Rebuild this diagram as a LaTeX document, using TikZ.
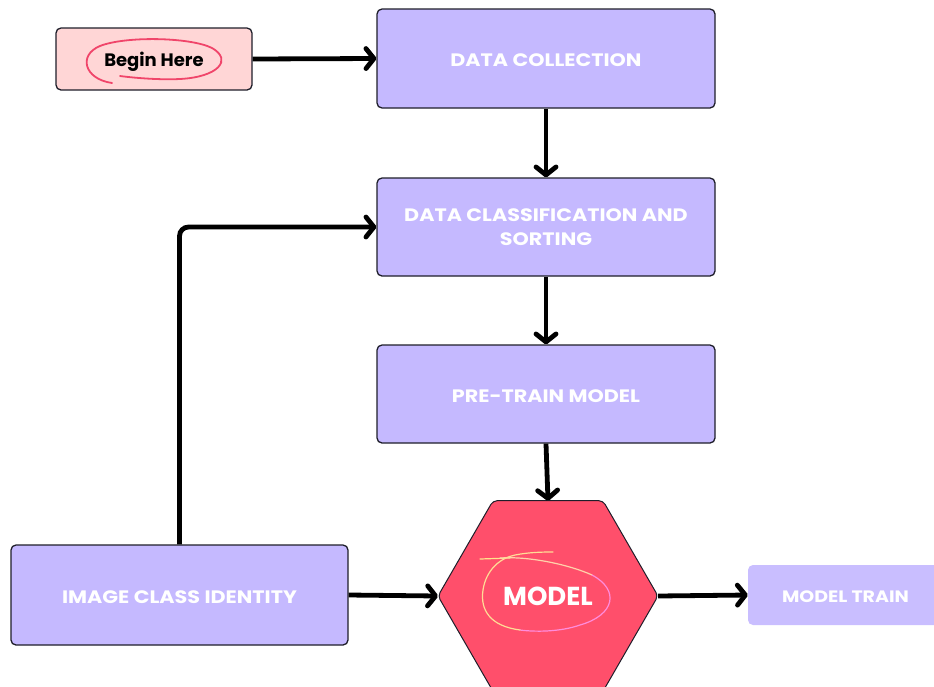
\documentclass[tikz,border=0pt]{standalone}
\usepackage{fontspec}
\setmainfont{Poppins}
\newfontfamily\widefont{Poppins}[FakeStretch=1.15]
\usetikzlibrary{arrows.meta,shapes.geometric}
\definecolor{lav}{HTML}{C5B9FF}
\definecolor{lavlight}{HTML}{C9BEFF}
\definecolor{pinkbox}{HTML}{FFD6D6}
\definecolor{hexred}{HTML}{FF4F6B}
\definecolor{scrib}{HTML}{F0456A}
\definecolor{edge}{HTML}{1E1E2A}
\begin{document}
\begin{tikzpicture}[x=1pt,y=-1pt,
  stage/.style={draw=edge,line width=1.3pt,fill=lav,rounded corners=5pt,
    inner sep=0pt,text=white,font=\widefont\bfseries\fontsize{18}{24}\selectfont,align=center},
  oneline/.style={text height=16pt,text depth=0pt},
  flow/.style={line width=4.8pt,-{Straight Barb[round,length=8pt,width=20pt,line width=4.8pt]}},
]
\useasboundingbox (0,0) rectangle (934,686);

% process boxes
\node[stage,oneline,minimum width=338pt,minimum height=99pt] (collect) at (546,58.5) {DATA COLLECTION};
\node[stage,minimum width=338pt,minimum height=98pt] (classify) at (546,227) {DATA CLASSIFICATION AND\\SORTING};
\node[stage,oneline,minimum width=338pt,minimum height=98pt] (pretrain) at (546,394) {PRE-TRAIN MODEL};
\node[stage,oneline,minimum width=337pt,minimum height=100pt] (identity) at (179.5,595) {IMAGE CLASS IDENTITY};

% start box
\node[draw=edge,line width=1.3pt,fill=pinkbox,rounded corners=5pt,inner sep=0pt,
  minimum width=196pt,minimum height=62pt,font=\bfseries\fontsize{18}{22}\selectfont,
  text height=15pt,text depth=0pt]
  (begin) at (154,59) {Begin Here};

% model hexagon
\node[regular polygon,regular polygon sides=6,minimum size=220pt,inner sep=0pt,outer sep=0pt,
  draw=edge,line width=1pt,fill=hexred,rounded corners=4pt] (model) at (548,596) {};
\node[text=white,font=\bfseries\fontsize{26}{30}\selectfont] (modeltxt) at (548,596) {MODEL};

% output box
\node[fill=lavlight,rounded corners=5pt,inner sep=0pt,minimum width=200pt,minimum height=60pt] (train) at (848,595) {};
\node[text=white,font=\widefont\bfseries\fontsize{16.5}{20}\selectfont,text height=14pt,text depth=0pt]
  (traintxt) at (845.5,595) {MODEL TRAIN};

% connectors
\draw[flow] (begin.east) -- (collect.west);
\draw[flow] (collect.south) -- (classify.north);
\draw[flow] (classify.south) -- (pretrain.north);
\draw[flow] (pretrain.south) -- (model.north);
\draw[flow,rounded corners=9pt] (identity.north) |- (classify.west);
\draw[flow] (identity.east) -- (model.west);
\draw[flow] (model.east) -- (train.west);

% hand-drawn loop round the start label
\draw[scrib,line width=1.8pt,line cap=round]
  (112,83) .. controls (84,79) and (78,55) .. (100,46)
  .. controls (125,36) and (190,37) .. (212,48)
  .. controls (233,60) and (218,77) .. (180,79)
  .. controls (160,80) and (135,78) .. (120,76);

% hand-drawn loop round MODEL
\draw[line width=1.2pt,line cap=round,color={rgb,255:red,255;green,228;blue,140}]
  (480,559) -- (510,558);
\draw[line width=1.2pt,line cap=round,color={rgb,255:red,255;green,210;blue,170}]
  (500,558) .. controls (530,556) and (570,565) .. (592,575);
\draw[line width=1.2pt,line cap=round,color={rgb,255:red,255;green,140;blue,220}]
  (592,575) .. controls (620,590) and (615,615) .. (580,625)
  .. controls (560,632) and (535,632) .. (520,630);
\draw[line width=1.2pt,line cap=round,color={rgb,255:red,255;green,220;blue,150}]
  (520,630) .. controls (490,626) and (480,610) .. (483,590)
  .. controls (486,570) and (500,558) .. (515,555)
  .. controls (530,552) and (545,552) .. (553,552);
\end{tikzpicture}
\end{document}
